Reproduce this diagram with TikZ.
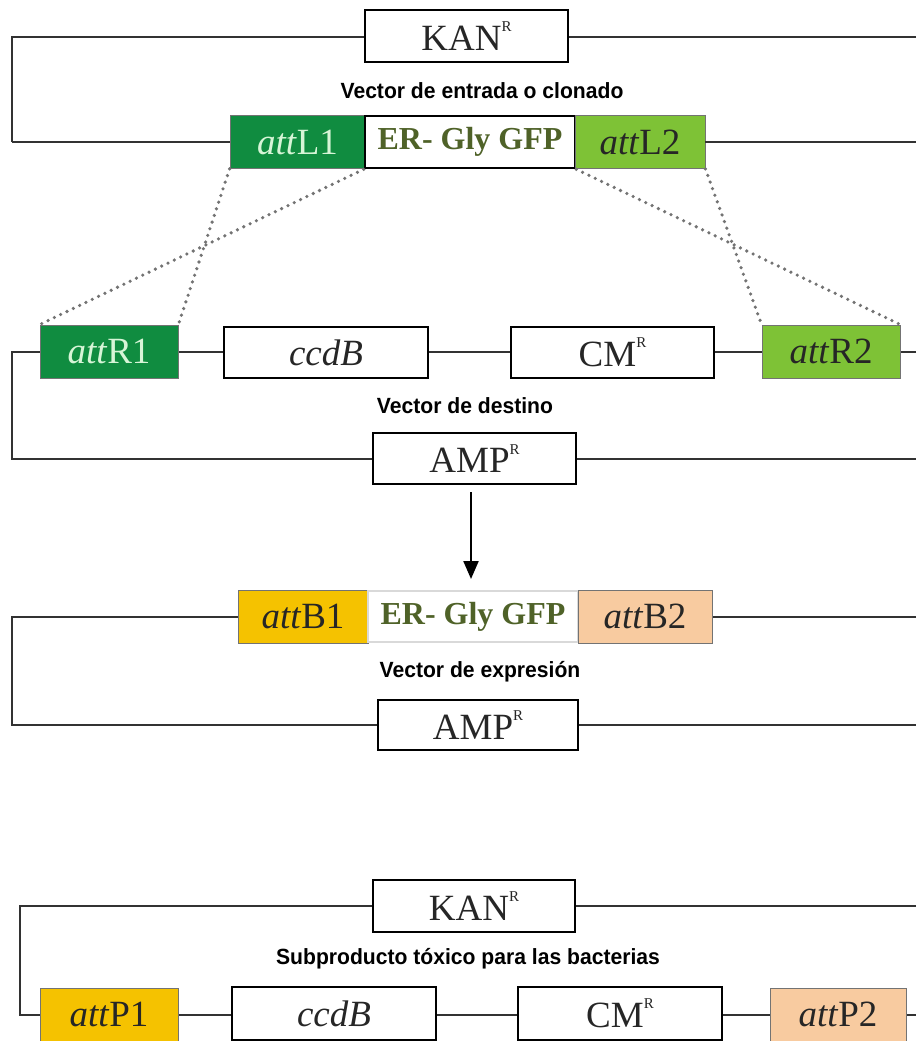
\documentclass[tikz,border=0pt]{standalone}
\usepackage{fontspec}
\setmainfont{Liberation Serif}
\newfontfamily\labfont{Liberation Sans}
\usetikzlibrary{arrows.meta}
\definecolor{dkgreen}{RGB}{16,140,64}
\definecolor{ltgreen}{RGB}{126,194,54}
\definecolor{gold}{RGB}{245,194,0}
\definecolor{peach}{RGB}{248,203,160}
\definecolor{olive}{RGB}{79,98,40}
\definecolor{wire}{RGB}{50,50,50}
\definecolor{paletxt}{RGB}{215,245,215}
\newcommand\supR{\raisebox{1.1ex}{\fontsize{15}{15}\selectfont R}}
\newcommand\bigtxt{\fontsize{37}{37}\selectfont}
\newcommand\ertxt{\fontsize{32}{32}\selectfont\bfseries}
\tikzset{
  gene/.style={draw=black, line width=1.6pt, fill=white, minimum height=52pt, inner sep=0pt, font=\bigtxt, text=black!85},
  colgene/.style={draw=black!55, line width=0.8pt, minimum height=53pt, inner sep=0pt, font=\bigtxt},
  wireln/.style={draw=wire, line width=2.4pt},
  lab/.style={font=\labfont\bfseries\fontsize{22}{22}\selectfont, inner sep=0pt},
  dots/.style={draw=black!55, line width=3.6pt, dash pattern=on 0pt off 7pt, line cap=round},
}
\begin{document}
\begin{tikzpicture}[x=1pt,y=-1pt]
\useasboundingbox (0,0) rectangle (916,1041);
\clip (0,0) rectangle (916,1041);
% ---------- Vector de entrada ----------
\coordinate (c1a) at (12,37);
\coordinate (c1b) at (12,142);
\coordinate (c1r1) at (916,37);
\coordinate (c1r2) at (916,142);
\draw[wireln] (c1r1) -- (c1a) -- (c1b);
\node[colgene, fill=dkgreen, minimum width=135pt, text=paletxt] (attL1) at (297.5,142) {\textit{att}L1};
\node[gene, line width=2.6pt, minimum width=210pt, text=olive, font=\ertxt] (er1) at (470,142) {ER- Gly GFP};
\node[colgene, fill=ltgreen, minimum width=130pt, text=black!85] (attL2) at (640,142) {\textit{att}L2};
\draw[wireln] (c1b) -- (attL1.west);
\draw[wireln] (attL2.east) -- (c1r2);
\node[gene, minimum width=203pt] (kan1) at (466.5,36) {KAN\supR};
\node[lab] (lab1) at (482,91) {\scalebox{0.96}[1]{Vector de entrada o clonado}};
% ---------- Vector de destino ----------
\coordinate (c2a) at (12,352);
\coordinate (c2b) at (12,459);
\coordinate (c2r1) at (916,352);
\coordinate (c2r2) at (916,459);
\draw[wireln] (c2r1) -- (c2a) -- (c2b) -- (c2r2);
\node[colgene, fill=dkgreen, minimum width=138pt, text=paletxt] (attR1) at (109,351.5) {\textit{att}R1};
\node[gene, minimum width=204pt, minimum height=51pt] (ccdB1) at (326,352.5) {\textit{ccdB}};
\node[gene, minimum width=203pt, minimum height=51pt] (cm1) at (612.5,352.5) {CM\supR};
\node[colgene, fill=ltgreen, minimum width=138pt, text=black!85] (attR2) at (831,351.5) {\textit{att}R2};
\node[lab] (lab2) at (465,406) {\scalebox{0.96}[1]{Vector de destino}};
\node[gene, minimum width=203pt, minimum height=51pt] (amp1) at (474.5,458.5) {AMP\supR};
% dotted crossing lines
\draw[dots] (attL1.south west) -- (attR1.north east);
\draw[dots] (er1.south west) -- (attR1.north west);
\draw[dots] (er1.south east) -- (attR2.north east);
\draw[dots] (attL2.south east) -- (attR2.north west);
% ---------- Vector de expresion ----------
\coordinate (c3a) at (12,617);
\coordinate (c3b) at (12,725);
\coordinate (c3r1) at (916,617);
\coordinate (c3r2) at (916,725);
\draw[wireln] (c3r1) -- (c3a) -- (c3b) -- (c3r2);
\node[colgene, fill=gold, minimum width=130pt, text=black!85] (attB1) at (303,616.5) {\textit{att}B1};
\node[gene, draw=black!15, line width=2.4pt, minimum width=210pt, minimum height=51pt, text=olive, font=\ertxt] (er2) at (473,616.5) {ER- Gly GFP};
\node[colgene, fill=peach, minimum width=134pt, text=black!85] (attB2) at (645,616.5) {\textit{att}B2};
\node[lab] (lab3) at (480,672) {\scalebox{0.96}[1]{Vector de expresión}};
\node[gene, minimum width=200pt, minimum height=50pt] (amp2) at (478,725) {AMP\supR};
% arrow
\coordinate (arrS) at (471,492);
\coordinate (arrE) at (471,579);
\draw[line width=2.2pt, -{Triangle[length=18pt,width=15pt]}] (arrS) -- (arrE);
% ---------- Subproducto ----------
\coordinate (c4a) at (20,906);
\coordinate (c4b) at (20,1015);
\coordinate (c4r1) at (916,906);
\coordinate (c4r2) at (916,1015);
\draw[wireln] (c4r1) -- (c4a) -- (c4b) -- (c4r2);
\node[gene, minimum width=202pt] (kan2) at (474,906) {KAN\supR};
\node[lab] (lab4) at (468,959) {\scalebox{0.96}[1]{Subproducto tóxico para las bacterias}};
\node[colgene, fill=gold, minimum width=138pt, text=black!85] (attP1) at (109,1014.5) {\textit{att}P1};
\node[gene, minimum width=204pt, minimum height=53pt] (ccdB2) at (334,1013.5) {\textit{ccdB}};
\node[gene, minimum width=204pt, minimum height=53pt] (cm2) at (620,1013.5) {CM\supR};
\node[colgene, fill=peach, minimum width=136pt, text=black!85] (attP2) at (838,1014.5) {\textit{att}P2};
\end{tikzpicture}
\end{document}
